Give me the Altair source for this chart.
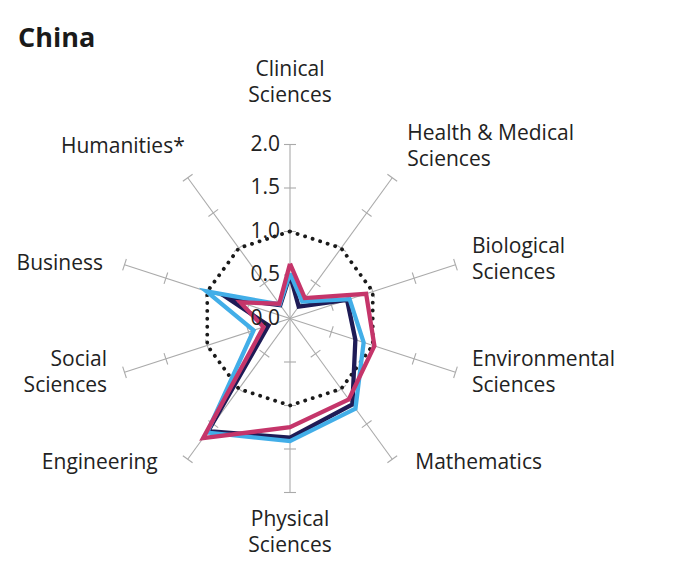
import math
import altair as alt

# ---------------- data ----------------
categories = ["Clinical\nSciences", "Health & Medical\nSciences", "Biological\nSciences",
              "Environmental\nSciences", "Mathematics", "Physical\nSciences",
              "Engineering", "Social\nSciences", "Business", "Humanities*"]
series_names = ["navy", "blue", "crimson"]
navy_vals    = [0.50, 0.17, 0.69, 0.79, 1.22, 1.37, 1.60, 0.26, 0.75, 0.19]
blue_vals    = [0.52, 0.24, 0.72, 0.89, 1.28, 1.41, 1.62, 0.44, 1.01, 0.20]
crimson_vals = [0.63, 0.29, 0.92, 1.02, 1.15, 1.25, 1.70, 0.32, 0.60, 0.21]
reference_vals = [1.0] * 10
tick_values = [0.5, 1.0, 1.5, 2.0]
tick_labels = ["0.0", "0.5", "1.0", "1.5", "2.0"]
axis_max = 2.0

# ---------------- layout ----------------
UNIT = 87.0
W, H = 660, 562
CX, CY = 282.0, 310.5
xdom = [-CX / UNIT, (W - CX) / UNIT]
ydom = [-(H - CY) / UNIT, CY / UNIT]
colors = {"navy": "#1e1b56", "blue": "#42aee8", "crimson": "#c5356a"}
FONT = "Open Sans"
LH = 26
# label placement offsets (pixels, block centre) from the axis end, and alignment
lab_dx = [0, 15, 16.5, 16.5, 23, 0, -30, -17.5, -21.5, -3]
lab_dy = [-62, -30.7, -4.7, 0.7, 3.7, 40.5, 3.7, 0.7, -0.7, -30.7]
lab_align = ["center", "left", "left", "left", "left", "center", "right", "right", "right", "right"]

n = len(categories)
angles = [2 * math.pi * i / n for i in range(n)]

xs = alt.X("x:Q", scale=alt.Scale(domain=xdom, nice=False, zero=False), axis=None)
ys = alt.Y("y:Q", scale=alt.Scale(domain=ydom, nice=False, zero=False), axis=None)

# spokes
spokes = [{"x": 0, "y": 0, "x2": axis_max * math.sin(a), "y2": axis_max * math.cos(a)} for a in angles]
spoke_layer = alt.Chart(alt.Data(values=spokes)).mark_rule(color="#aaaaaa", strokeWidth=1.1).encode(
    x=xs, y=ys, x2="x2:Q", y2="y2:Q")

# tick marks
half = 6.0 / UNIT
ticks = []
for a in angles:
    s, c = math.sin(a), math.cos(a)
    for v in tick_values:
        px, py = v * s, v * c
        ticks.append({"x": px - half * c, "y": py + half * s, "x2": px + half * c, "y2": py - half * s})
tick_layer = alt.Chart(alt.Data(values=ticks)).mark_rule(color="#aaaaaa", strokeWidth=1.1).encode(
    x=xs, y=ys, x2="x2:Q", y2="y2:Q")

# reference dotted decagon
ref_pts = []
for k in range(n + 1):
    i = k % n
    ref_pts.append({"x": reference_vals[i] * math.sin(angles[i]),
                    "y": reference_vals[i] * math.cos(angles[i]), "o": k})
ref_layer = alt.Chart(alt.Data(values=ref_pts)).mark_line(
    color="#1a1a1a", strokeWidth=3.8, strokeDash=[0.1, 7.8], strokeCap="round").encode(
    x=xs, y=ys, order="o:Q")

# series polygons
rows = []
for name, vals in zip(series_names, [navy_vals, blue_vals, crimson_vals]):
    for k in range(n + 1):
        i = k % n
        rows.append({"s": name, "x": vals[i] * math.sin(angles[i]),
                     "y": vals[i] * math.cos(angles[i]), "o": k})
series_layers = []
for name in series_names:
    series_layers.append(
        alt.Chart(alt.Data(values=[r for r in rows if r["s"] == name])).mark_line(
            color=colors[name], strokeWidth=4.3, strokeJoin="miter", strokeMiterLimit=10).encode(
            x=xs, y=ys, order="o:Q"))

# radial tick labels (on vertical axis)
tl = [{"x": 0, "y": i * 0.5, "t": t} for i, t in enumerate(tick_labels)]
tl_layer = alt.Chart(alt.Data(values=tl)).mark_text(
    align="right", baseline="middle", dx=-10, fontSize=21, font=FONT, color="#222222").encode(
    x=xs, y=ys, text="t:N")

# category labels
label_layers = []
for al in ["left", "center", "right"]:
    vals = []
    for i, cat in enumerate(categories):
        if lab_align[i] != al:
            continue
        nlines = cat.count("\n") + 1
        dy = lab_dy[i] - (nlines - 1) * LH / 2
        vals.append({"x": axis_max * math.sin(angles[i]) + lab_dx[i] / UNIT,
                     "y": axis_max * math.cos(angles[i]) - dy / UNIT,
                     "t": cat})
    label_layers.append(alt.Chart(alt.Data(values=vals)).mark_text(
        align=al, baseline="middle", fontSize=21, font=FONT, color="#222222",
        lineBreak="\n", lineHeight=LH).encode(x=xs, y=ys, text="t:N"))

title_layer = alt.Chart(alt.Data(values=[{"t": "China"}])).mark_text(
    align="left", baseline="middle", fontSize=27, fontWeight="bold", font=FONT, color="#1a1a1a").encode(
    x=alt.value(10), y=alt.value(31), text="t:N")

chart = alt.layer(spoke_layer, tick_layer, ref_layer, *series_layers, tl_layer, *label_layers, title_layer).properties(
    width=W, height=H, autosize=alt.AutoSizeParams(type="none"), padding=0
).configure_view(stroke=None)

chart.save("out.html", embed_options={"renderer": "svg", "actions": False})
